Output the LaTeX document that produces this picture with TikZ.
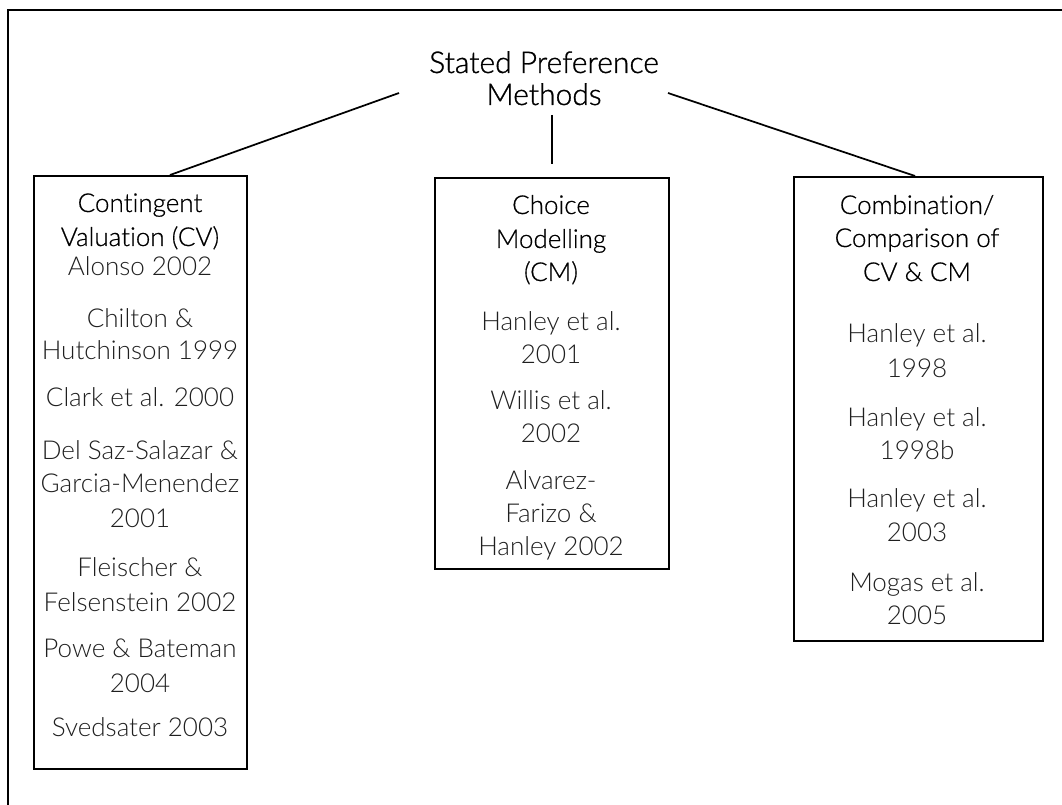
\documentclass[tikz,border=0pt]{standalone}
\usepackage{fontspec}
\setmainfont{Lato Light}[Ligatures=NoCommon]
\newfontfamily\headfont{Lato Light}[Ligatures=NoCommon, FakeBold=0.6]
\newfontfamily\titlefont{Lato Light}[Ligatures=NoCommon, FakeBold=1.0]
\definecolor{refgrey}{gray}{0.12}
\begin{document}
\begin{tikzpicture}[x=0.75pt,y=-0.75pt,
  box/.style={draw, line width=1.3pt, anchor=north west, inner sep=0pt},
  head/.style={anchor=base, inner sep=0pt, font=\headfont\fontsize{19.5}{24}\selectfont, text=black},
  ref/.style={anchor=base, inner sep=0pt, font=\fontsize{19.5}{24}\selectfont, text=refgrey},
  ttl/.style={anchor=base, inner sep=0pt, font=\titlefont\fontsize{22.5}{26}\selectfont, text=black},
  link/.style={line width=1.3pt}]
\useasboundingbox (0,0) rectangle (1062,805);
\draw[line width=1.5pt] (8,805) -- (8,10) -- (1062,10);

% title
\node[ttl] (t1) at (544,73) {Stated Preference};
\node[ttl] (t2) at (544,105) {Methods};
\coordinate (tl) at (399,93);
\coordinate (tr) at (668,93);
\coordinate (tb) at (552,115);

% boxes
\node[box, minimum width=159.75pt, minimum height=444.75pt] (cv) at (33,175) {};
\node[box, minimum width=175.5pt, minimum height=293.25pt] (cm) at (434,177) {};
\node[box, minimum width=186.75pt, minimum height=348pt] (cc) at (793,176) {};

% connectors
\draw[link] (tl) -- (cv.north west -| 170,0);
\draw[link] (tb) -- ([yshift=9.75pt]cm.north -| 552,0);
\draw[link] (tr) -- (cc.north west -| 915,0);

% CV
\node[head] (cv1) at (140,212) {Contingent};
\node[head] (cv2) at (140,246) {Valuation (CV)};
\node[ref] (cv3) at (140,276) {Alonso 2002};
\node[ref] (cv4) at (140,327) {Chilton \&};
\node[ref] (cv5) at (140,359) {Hutchinson 1999};
\node[ref] (cv6) at (140,406) {Clark et al. 2000};
\node[ref] (cv7) at (140,459) {Del Saz-Salazar \&};
\node[ref] (cv8) at (140,492) {Garcia-Menendez};
\node[ref] (cv9) at (140,527) {2001};
\node[ref] (cv10) at (140,576) {Fleischer \&};
\node[ref] (cv11) at (140,611) {Felsenstein 2002};
\node[ref] (cv12) at (140,657) {Powe \& Bateman};
\node[ref] (cv13) at (140,692) {2004};
\node[ref] (cv14) at (140,736) {Svedsater 2003};

% CM
\node[head] (cm1) at (551,214) {Choice};
\node[head] (cm2) at (551,248) {Modelling};
\node[head] (cm3) at (551,281) {(CM)};
\node[ref] (cm4) at (551,330) {Hanley et al.};
\node[ref] (cm5) at (551,363) {2001};
\node[ref] (cm6) at (551,409) {Willis et al.};
\node[ref] (cm7) at (551,442) {2002};
\node[ref] (cm8) at (551,489) {Alvarez-};
\node[ref] (cm9) at (551,522) {Farizo \&};
\node[ref] (cm10) at (551,555) {Hanley 2002};

% CC
\node[head] (cc1) at (917,214) {Combination/};
\node[head] (cc2) at (917,247) {Comparison of};
\node[head] (cc3) at (917,281) {CV \& CM};
\node[ref] (cc4) at (917,342) {Hanley et al.};
\node[ref] (cc5) at (917,377) {1998};
\node[ref] (cc6) at (917,426) {Hanley et al.};
\node[ref] (cc7) at (917,459) {1998b};
\node[ref] (cc8) at (917,507) {Hanley et al.};
\node[ref] (cc9) at (917,541) {2003};
\node[ref] (cc10) at (917,591) {Mogas et al.};
\node[ref] (cc11) at (917,624) {2005};
\end{tikzpicture}
\end{document}
